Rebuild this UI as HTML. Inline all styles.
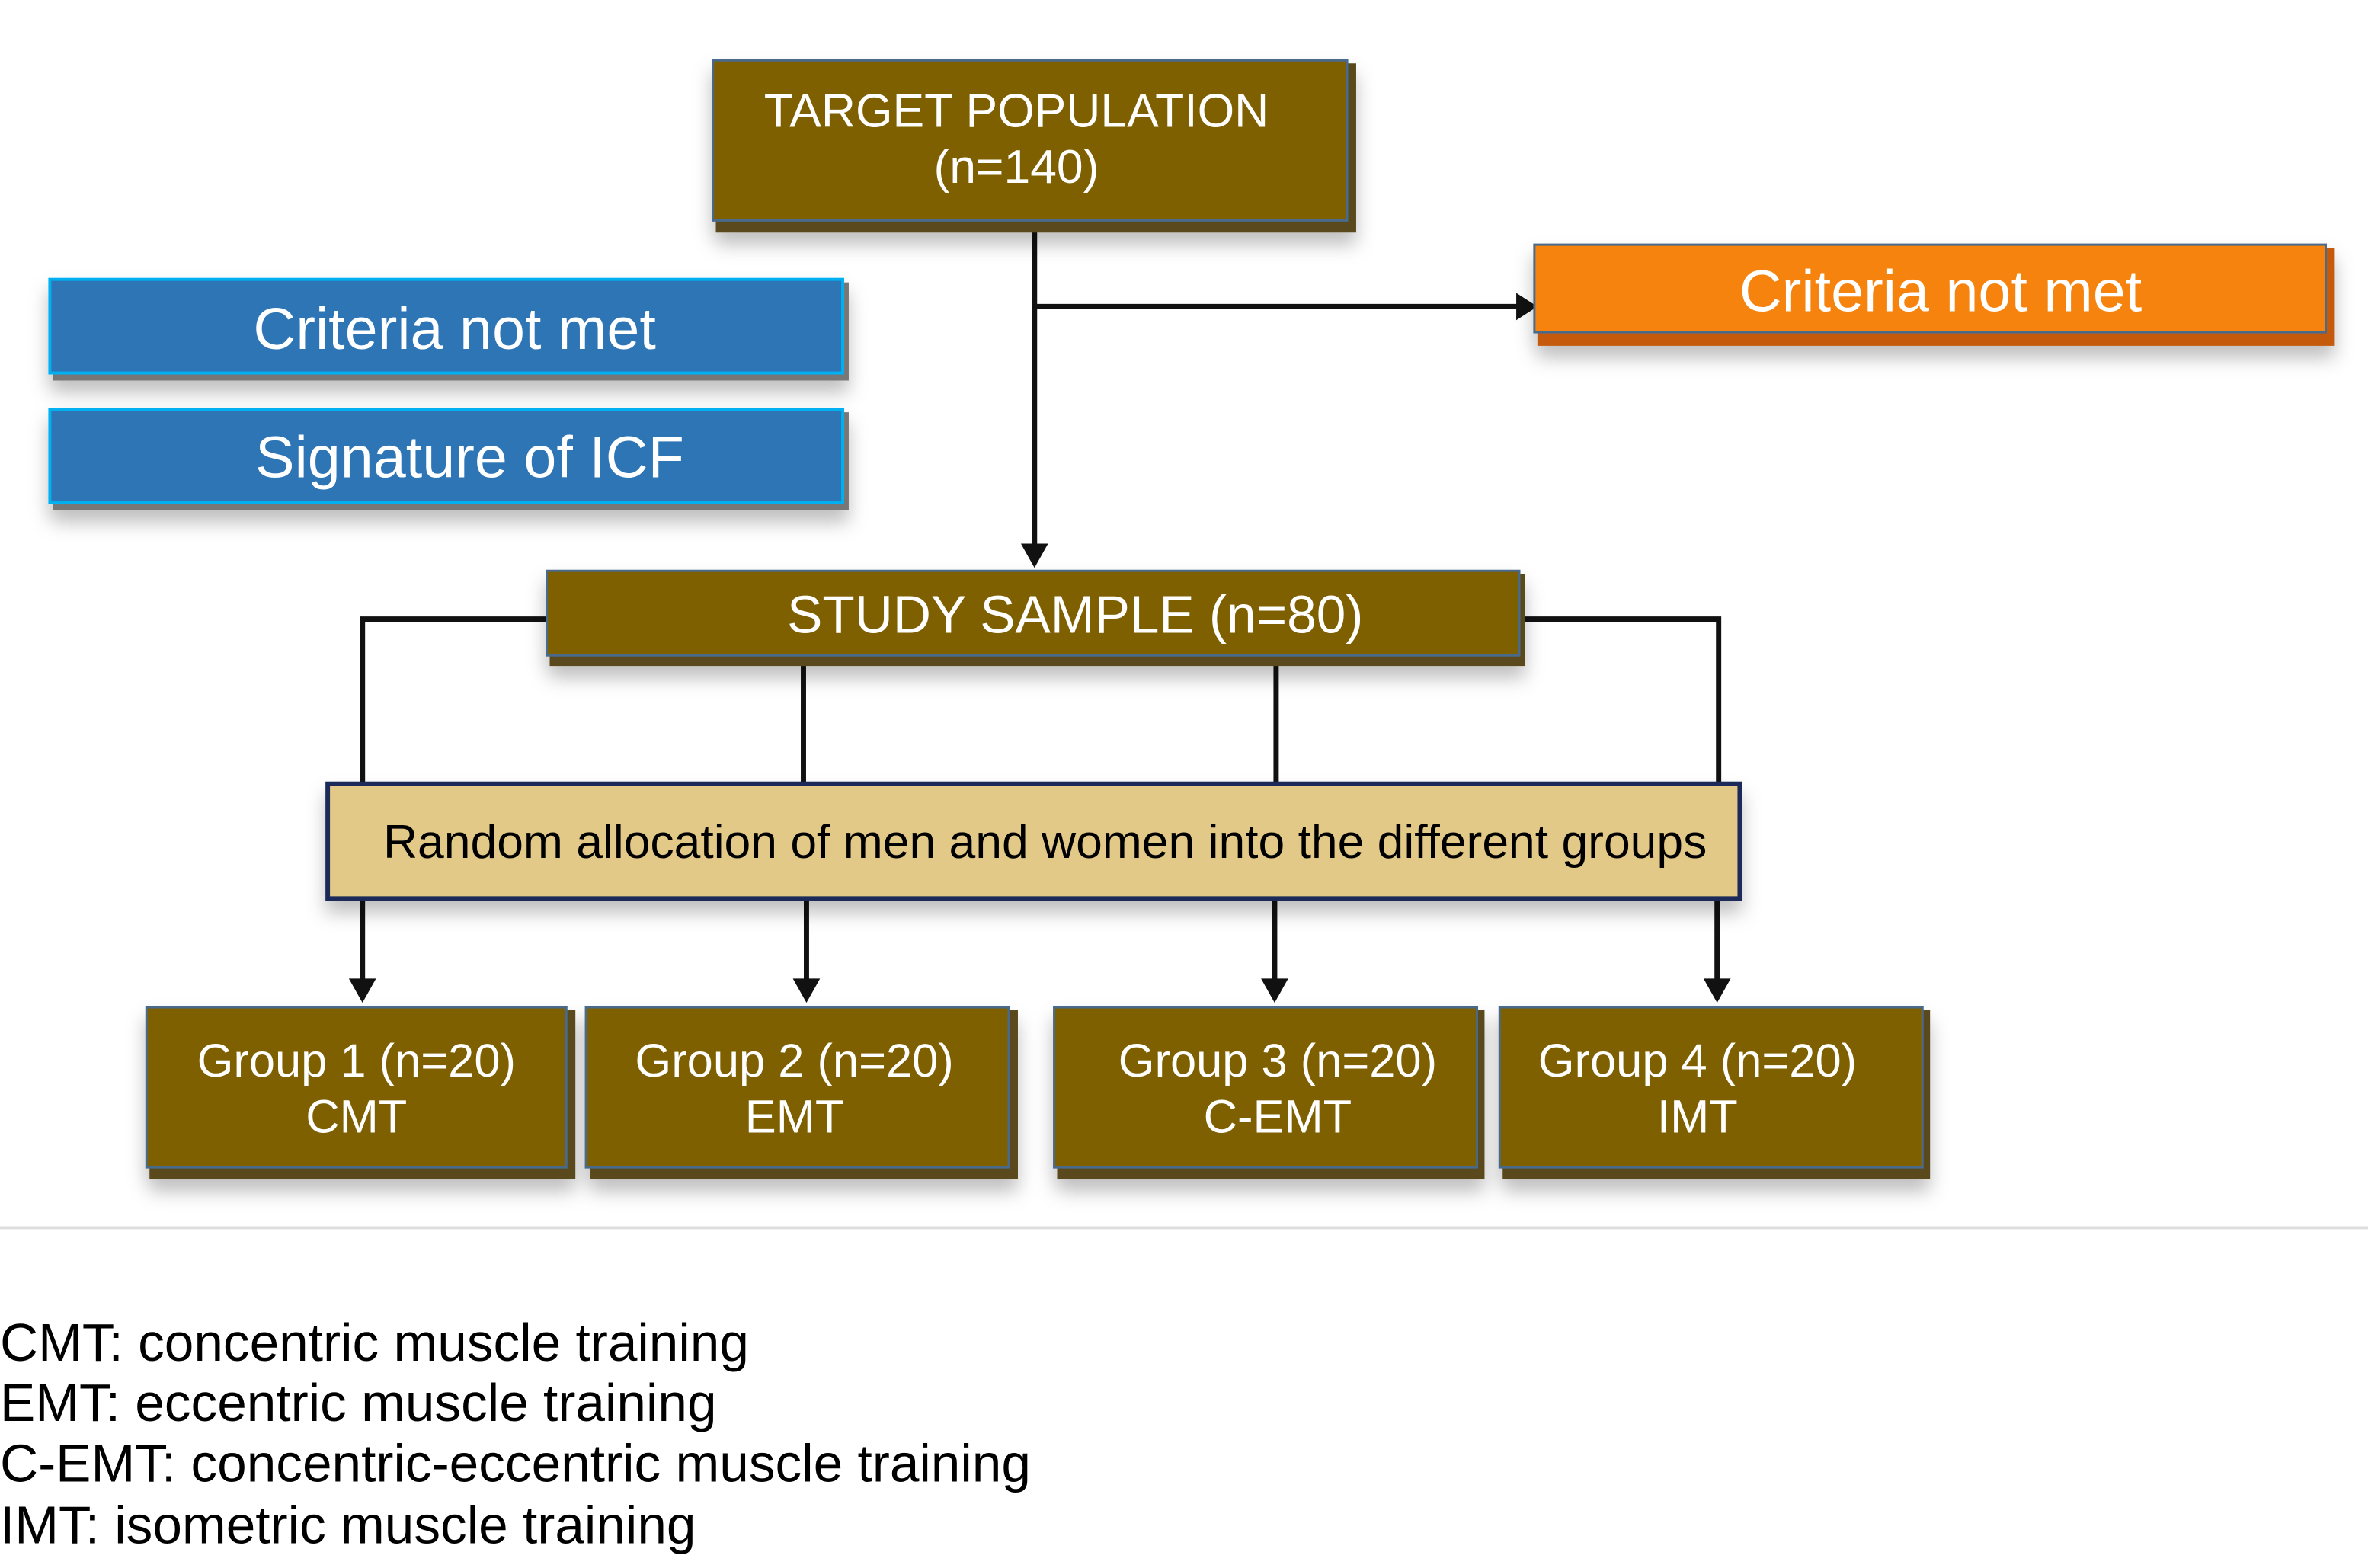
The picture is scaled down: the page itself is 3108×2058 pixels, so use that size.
<!DOCTYPE html>
<html><head><meta charset="utf-8"><style>
html,body{margin:0;padding:0;background:#fff;}
svg{display:block;}
text{font-family:"Liberation Sans",sans-serif;}
</style></head><body>
<svg width="3108" height="2058" viewBox="0 0 1568 1038.3" preserveAspectRatio="none" xmlns="http://www.w3.org/2000/svg">
<defs>
<filter id="sh" x="-10%" y="-20%" width="120%" height="160%"><feDropShadow dx="0" dy="8" stdDeviation="6" flood-color="#000" flood-opacity="0.25"/></filter>
</defs>
<rect width="1568" height="1040" fill="#fff"/>
<line x1="0" y1="813" x2="1568" y2="813" stroke="#ddd" stroke-width="2"/>
<g stroke="#111" stroke-width="3.5" fill="none">
<line x1="685" y1="153" x2="685" y2="372" />
<line x1="685" y1="203" x2="1008" y2="203"/>
<polyline points="362,410 240,410 240,519"/>
<polyline points="1010,410 1138,410 1138,519"/>
<line x1="532" y1="440" x2="532" y2="519"/>
<line x1="845" y1="440" x2="845" y2="519"/>
<line x1="240" y1="595" x2="240" y2="656"/>
<line x1="534" y1="595" x2="534" y2="656"/>
<line x1="844" y1="595" x2="844" y2="656"/>
<line x1="1137" y1="595" x2="1137" y2="656"/>
</g>
<g fill="#111">
<path d="M1004,194 L1018,203 L1004,212Z"/>
<path d="M676,360 L685,376 L694,360Z"/>
<path d="M231,648 L240,664 L249,648Z"/>
<path d="M525,648 L534,664 L543,648Z"/>
<path d="M835,648 L844,664 L853,648Z"/>
<path d="M1128,648 L1137,664 L1146,648Z"/>
</g>
<g filter="url(#sh)">
<rect x="474" y="42" width="424" height="112" fill="#5a4a1a"/>
<rect x="472" y="40" width="420" height="106" fill="#7f6000" stroke="#4a6a8a" stroke-width="1.5"/>
<rect x="35" y="187" width="527" height="65" fill="#777"/>
<rect x="33" y="185" width="525" height="62" fill="#2e75b6" stroke="#00b0f0" stroke-width="2"/>
<rect x="35" y="273" width="527" height="65" fill="#777"/>
<rect x="33" y="271" width="525" height="62" fill="#2e75b6" stroke="#00b0f0" stroke-width="2"/>
<rect x="1018" y="164" width="528" height="65" fill="#c55a11"/>
<rect x="1016" y="162" width="524" height="58" fill="#f5830e" stroke="#4a6a8a" stroke-width="1.5"/>
<rect x="364" y="380" width="646" height="61" fill="#5a4a1a"/>
<rect x="362" y="378" width="644" height="56" fill="#7f6000" stroke="#4a6a8a" stroke-width="1.5"/>
<rect x="217" y="519" width="935" height="76" fill="#e3c988" stroke="#1a2a5a" stroke-width="3"/>
<rect x="99" y="669" width="282" height="112" fill="#5a4a1a"/>
<rect x="97" y="667" width="278" height="106" fill="#7f6000" stroke="#4a6a8a" stroke-width="1.5"/>
<rect x="391" y="669" width="283" height="112" fill="#5a4a1a"/>
<rect x="388" y="667" width="280" height="106" fill="#7f6000" stroke="#4a6a8a" stroke-width="1.5"/>
<rect x="700" y="669" width="283" height="112" fill="#5a4a1a"/>
<rect x="698" y="667" width="280" height="106" fill="#7f6000" stroke="#4a6a8a" stroke-width="1.5"/>
<rect x="995" y="669" width="283" height="112" fill="#5a4a1a"/>
<rect x="993" y="667" width="280" height="106" fill="#7f6000" stroke="#4a6a8a" stroke-width="1.5"/>
</g>
<g fill="#fff" text-anchor="middle">
<text x="673" y="84" font-size="31.5">TARGET POPULATION</text>
<text x="673" y="121" font-size="31.5">(n=140)</text>
<text x="301" y="231" font-size="39">Criteria not met</text>
<text x="311" y="316" font-size="39">Signature of ICF</text>
<text x="1285" y="206" font-size="39">Criteria not met</text>
<text x="712" y="419" font-size="35">STUDY SAMPLE (n=80)</text>
<text x="236" y="713" font-size="31">Group 1 (n=20)</text>
<text x="236" y="750" font-size="31">CMT</text>
<text x="526" y="713" font-size="31">Group 2 (n=20)</text>
<text x="526" y="750" font-size="31">EMT</text>
<text x="846" y="713" font-size="31">Group 3 (n=20)</text>
<text x="846" y="750" font-size="31">C-EMT</text>
<text x="1124" y="713" font-size="31">Group 4 (n=20)</text>
<text x="1124" y="750" font-size="31">IMT</text>
</g>
<text x="692" y="568" font-size="31.5" text-anchor="middle" fill="#000">Random allocation of men and women into the different groups</text>
<g fill="#000" font-size="35">
<text x="0" y="901">CMT: concentric muscle training</text>
<text x="0" y="941">EMT: eccentric muscle training</text>
<text x="0" y="981">C-EMT: concentric-eccentric muscle training</text>
<text x="0" y="1022">IMT: isometric muscle training</text>
</g>
</svg>
</body></html>
